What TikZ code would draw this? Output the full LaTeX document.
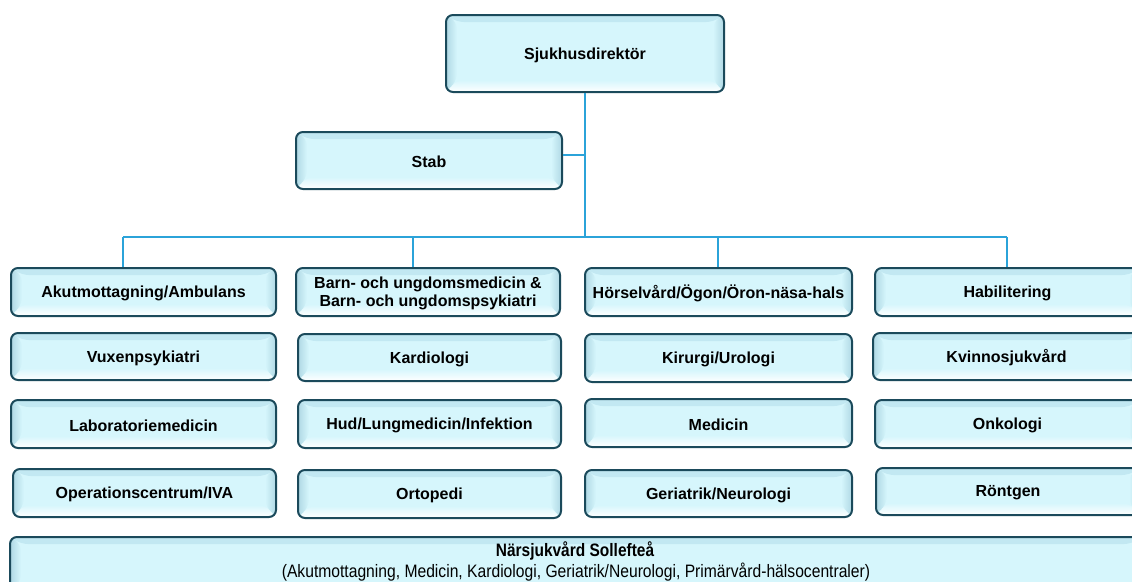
\documentclass[tikz,border=0pt]{standalone}
\usepackage{fontspec}
\setmainfont{Liberation Sans}
\definecolor{boxedge}{HTML}{1B4A5B}
\definecolor{boxface}{HTML}{D6F6FC}
\definecolor{bevtop}{HTML}{C2E8F2}
\definecolor{bevside}{HTML}{AFD8E4}
\definecolor{linkblue}{HTML}{2BA3D9}
\begin{document}
\begin{tikzpicture}[x=1pt,y=-1pt,
  bevel/.style={path picture={
    \fill[boxface] (path picture bounding box.south west) rectangle (path picture bounding box.north east);
    \fill[bevtop] (path picture bounding box.north west) -- (path picture bounding box.north east)
      -- ([xshift=-11pt,yshift=-7pt]path picture bounding box.north east)
      -- ([xshift=11pt,yshift=-7pt]path picture bounding box.north west) -- cycle;
    \shade[top color=boxface,bottom color=white] ([xshift=11pt,yshift=12pt]path picture bounding box.south west)
      -- ([xshift=-11pt,yshift=12pt]path picture bounding box.south east)
      -- (path picture bounding box.south east)
      -- (path picture bounding box.south west) -- cycle;
    \shade[left color=bevside,right color=boxface] (path picture bounding box.north west)
      -- ([xshift=11pt,yshift=-7pt]path picture bounding box.north west)
      -- ([xshift=11pt,yshift=12pt]path picture bounding box.south west)
      -- (path picture bounding box.south west) -- cycle;
    \shade[right color=bevside,left color=boxface] (path picture bounding box.north east)
      -- ([xshift=-11pt,yshift=-7pt]path picture bounding box.north east)
      -- ([xshift=-11pt,yshift=12pt]path picture bounding box.south east)
      -- (path picture bounding box.south east) -- cycle;
  }},
  unit/.style={draw=boxedge, line width=2pt, rounded corners=7pt, inner sep=0pt, bevel},
  label text/.style={align=center, text=black, inner sep=0pt,
    font=\bfseries\fontsize{16}{17.5}\selectfont},
  link/.style={draw=linkblue, line width=1.8pt}]

\useasboundingbox (0,0) rectangle (1132,581);
\clip (0,0) rectangle (1132,581);

% \orgbox{name}{left}{top}{right}{bottom}{text}: framed box plus its caption
\newcommand{\orgbox}[6]{%
  \node[unit, minimum width={(#4-#2)*1pt}, minimum height={(#5-#3)*1pt}]
    (#1) at ({(#2+#4)/2},{(#3+#5)/2}) {};
  \node[label text] (#1-t) at ([yshift=-1.5pt]#1.center) {#6};}

% management
\orgbox{dir}{446}{15}{724}{92}{Sjukhusdirektör}
\orgbox{stab}{296}{132}{562}{189}{Stab}

% first row of clinics
\orgbox{akut}{11}{268}{276}{316}{Akutmottagning/Ambulans}
\orgbox{barn}{296}{268}{560}{316}{Barn- och ungdomsmedicin \&\\Barn- och ungdomspsykiatri}
\orgbox{horsel}{585}{268}{852}{316}{Hörselvård/Ögon/Öron-näsa-hals}
\orgbox{habil}{875}{268}{1140}{316}{Habilitering}

% second row
\orgbox{vuxen}{11}{333}{276}{380}{Vuxenpsykiatri}
\orgbox{kardio}{298}{334}{561}{381}{Kardiologi}
\orgbox{kirurgi}{585}{334}{852}{382}{Kirurgi/Urologi}
\orgbox{kvinno}{873}{333}{1140}{380}{Kvinnosjukvård}

% third row
\orgbox{lab}{11}{400}{276}{448}{Laboratoriemedicin}
\orgbox{hud}{298}{400}{561}{448}{Hud/Lungmedicin/Infektion}
\orgbox{medicin}{585}{399}{852}{447}{Medicin}
\orgbox{onko}{875}{400}{1140}{448}{Onkologi}

% fourth row
\orgbox{oper}{13}{469}{276}{517}{Operationscentrum/IVA}
\orgbox{orto}{298}{470}{561}{518}{Ortopedi}
\orgbox{geri}{585}{470}{852}{517}{Geriatrik/Neurologi}
\orgbox{rontgen}{876}{468}{1140}{515}{Röntgen}

% local care unit across the full width
\node[unit, minimum width=1132pt, minimum height=56pt] (nars) at (576,565) {};
\node[label text] (nars-t1) at (575,551)
  {\scalebox{0.86}[1]{\fontsize{18}{19}\selectfont Närsjukvård Sollefteå}};
\node[label text] (nars-t2) at (576,572)
  {\scalebox{0.87}[1]{\mdseries\fontsize{18}{19}\selectfont (Akutmottagning, Medicin, Kardiologi, Geriatrik/Neurologi, Primärvård-hälsocentraler)}};

% connectors
\coordinate (bus) at (585,237);
\coordinate (stabjoin) at (585,155);
\coordinate (busA) at (123,237);
\coordinate (busB) at (413,237);
\coordinate (busC) at (718,237);
\coordinate (busD) at (1007,237);
\draw[link] (dir.south) -- (bus);
\draw[link] (stabjoin -| stab.east) -- (stabjoin);
\draw[link] (busA) -- (busD);
\draw[link] (busA) -- (akut.north -| busA);
\draw[link] (busB) -- (barn.north -| busB);
\draw[link] (busC) -- (horsel.north -| busC);
\draw[link] (busD) -- (habil.north -| busD);
\end{tikzpicture}
\end{document}
